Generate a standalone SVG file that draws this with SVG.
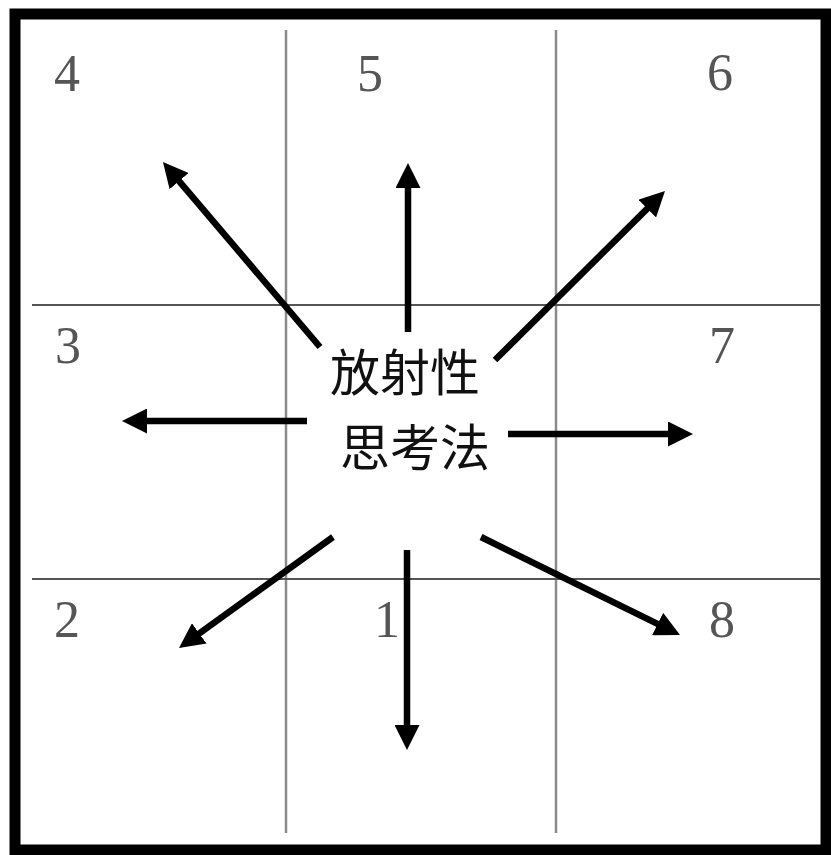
<svg xmlns="http://www.w3.org/2000/svg" width="831" height="855" viewBox="0 0 831 855">
<style>
.vline{stroke:#8a8a8a;stroke-width:2.5;fill:none}
.hline{stroke:#555;stroke-width:2;fill:none}
.num{font-family:"Liberation Serif","Times New Roman",serif;font-size:52px;fill:#555;text-anchor:middle}
.cjk{font-family:"Noto Sans CJK SC","Noto Sans CJK JP",sans-serif;font-size:50px;fill:#111;text-anchor:middle}
.arrow{stroke:#000;stroke-width:6.5;fill:none;marker-end:url(#head)}
</style>
<defs>
<marker id="head" markerUnits="userSpaceOnUse" markerWidth="25" markerHeight="25" viewBox="0 0 25 25" refX="5" refY="12.5" orient="auto">
<path d="M0,0 L25,12.5 L0,25 z" fill="#000"/>
</marker>
</defs>
<rect x="0" y="0" width="831" height="855" fill="#fff"/>
<g id="frame">
<rect x="15" y="14" width="811" height="836" fill="none" stroke="#000" stroke-width="11"/>
</g>
<g id="grid">
<line class="vline" x1="286" y1="30" x2="286" y2="833"/>
<line class="vline" x1="556" y1="30" x2="556" y2="833"/>
<line class="hline" x1="32" y1="305" x2="820" y2="305"/>
<line class="hline" x1="32" y1="579" x2="820" y2="579"/>
</g>
<g id="center">
<text class="cjk" x="405" y="391">放射性</text>
<text class="cjk" x="415" y="466">思考法</text>
</g>
<g id="n1"><text class="num" x="387" y="637">1</text></g>
<g id="n2"><text class="num" x="67" y="637">2</text></g>
<g id="n3"><text class="num" x="68" y="363">3</text></g>
<g id="n4"><text class="num" x="67" y="91">4</text></g>
<g id="n5"><text class="num" x="370" y="91">5</text></g>
<g id="n6"><text class="num" x="720" y="90">6</text></g>
<g id="n7"><text class="num" x="722" y="363">7</text></g>
<g id="n8"><text class="num" x="722" y="637">8</text></g>
<g id="connectors">
<line class="arrow" x1="407" y1="550" x2="407" y2="730"/>
<line class="arrow" x1="333" y1="537" x2="195.2" y2="636.3"/>
<line class="arrow" x1="307" y1="421" x2="142" y2="421"/>
<line class="arrow" x1="320" y1="347" x2="175.9" y2="177.3"/>
<line class="arrow" x1="408" y1="332" x2="408" y2="183"/>
<line class="arrow" x1="495" y1="360" x2="650.8" y2="205.1"/>
<line class="arrow" x1="508" y1="434" x2="673" y2="434"/>
<line class="arrow" x1="481" y1="537" x2="662.1" y2="626.2"/>
</g>
</svg>
